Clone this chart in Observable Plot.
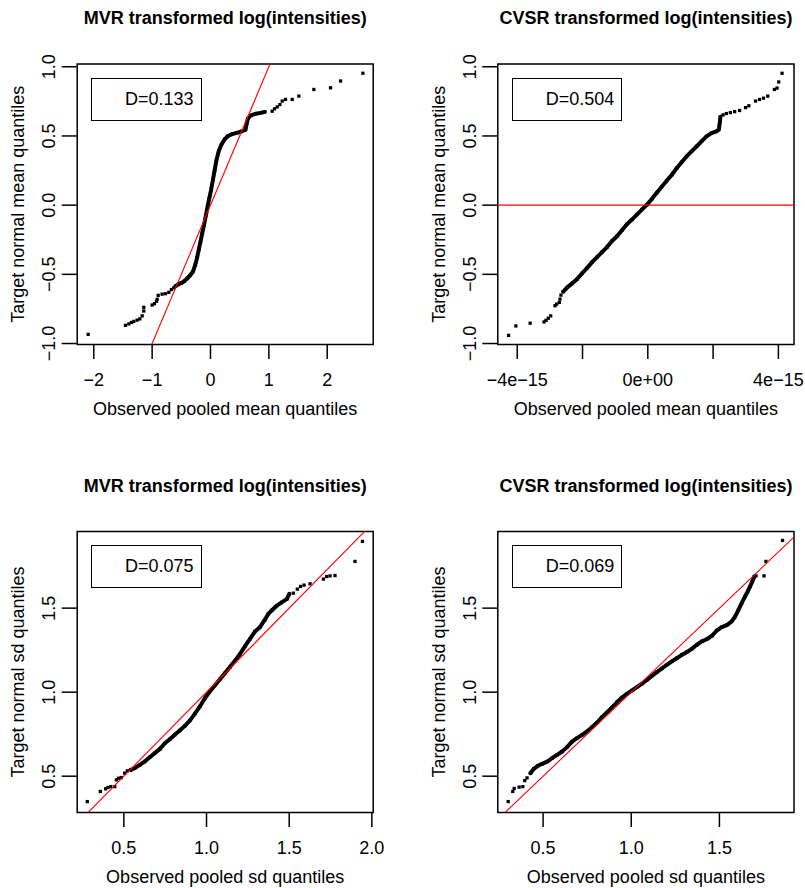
<!DOCTYPE html>
<html>
<head>
<meta charset="utf-8">
<script src="https://cdn.jsdelivr.net/npm/d3@7"></script>
<script src="https://cdn.jsdelivr.net/npm/@observablehq/plot@0.6"></script>
<style>
  body { margin: 0; background: #fff; }
  #wrap { position: relative; width: 805px; height: 888px; background: #fff;
          font-family: 'Liberation Sans', Arial, Helvetica, sans-serif; }
  #wrap svg { position: absolute; }
  .legend { position: absolute; box-sizing: border-box; border: 1.5px solid #000;
            font-size: 18px; color: #000; display: flex; align-items: center; }
</style>
</head>
<body>
<div id="wrap"></div>
<script>
// ---------------- data ----------------
const titles = ["MVR transformed log(intensities)", "CVSR transformed log(intensities)",
                "MVR transformed log(intensities)", "CVSR transformed log(intensities)"];
const xLabels = ["Observed pooled mean quantiles", "Observed pooled mean quantiles",
                 "Observed pooled sd quantiles", "Observed pooled sd quantiles"];
const yLabels = ["Target normal mean quantiles", "Target normal mean quantiles",
                 "Target normal sd quantiles", "Target normal sd quantiles"];
const dStats = ["D=0.133", "D=0.504", "D=0.075", "D=0.069"];

// Top-left: MVR, means
const tlLowX = [-2.096,-1.457,-1.400,-1.354,-1.314,-1.257,-1.211,-1.171,-1.143,-1.143,-1.000,-0.960,-0.926,-0.914,-0.896,-0.829,-0.771,-0.714,-0.670,-0.629];
const tlLowY = [-0.934,-0.869,-0.858,-0.848,-0.840,-0.831,-0.822,-0.800,-0.765,-0.738,-0.722,-0.712,-0.695,-0.680,-0.652,-0.643,-0.640,-0.630,-0.610,-0.598];
const tlCurveX = [-0.60,-0.55,-0.50,-0.45,-0.40,-0.35,-0.30,-0.26,-0.23,-0.20,-0.17,-0.14,-0.11,-0.08,-0.05,-0.02,0.01,0.04,0.07,0.10,0.14,0.19,0.24,0.30,0.37,0.45,0.53,0.60,0.62,0.64,0.69,0.77,0.86,0.93];
const tlCurveY = [-0.585,-0.572,-0.562,-0.550,-0.530,-0.508,-0.480,-0.430,-0.380,-0.320,-0.260,-0.200,-0.140,-0.075,-0.010,0.050,0.110,0.180,0.250,0.320,0.390,0.440,0.475,0.500,0.513,0.522,0.532,0.545,0.590,0.625,0.648,0.660,0.667,0.674];
const tlHighX = [1.057,1.097,1.143,1.189,1.229,1.286,1.400,1.514,1.771,2.057,2.229,2.611];
const tlHighY = [0.679,0.696,0.710,0.727,0.752,0.764,0.764,0.788,0.836,0.848,0.897,0.953];

// Top-right: CVSR, means
const trLowX = [-4.264e-15,-4.041e-15,-3.604e-15,-3.178e-15,-3.117e-15,-3.046e-15,-2.975e-15,-2.843e-15,-2.792e-15,-2.711e-15,-2.690e-15,-2.660e-15];
const trLowY = [-0.941,-0.873,-0.853,-0.844,-0.832,-0.817,-0.800,-0.727,-0.715,-0.703,-0.679,-0.650];
const trCurveX = [-2.589e-15,-2.467e-15,-2.315e-15,-2.162e-15,-2.010e-15,-1.858e-15,-1.706e-15,-1.553e-15,-1.401e-15,-1.249e-15,-1.096e-15,-0.944e-15,-0.792e-15,-0.640e-15,-0.487e-15,-0.335e-15,-0.183e-15,-0.030e-15,0.122e-15,0.274e-15,0.426e-15,0.579e-15,0.731e-15,0.883e-15,1.036e-15,1.188e-15,1.340e-15,1.492e-15,1.645e-15,1.797e-15,1.949e-15,2.102e-15,2.173e-15,2.203e-15,2.223e-15];
const trCurveY = [-0.625,-0.594,-0.565,-0.533,-0.492,-0.453,-0.412,-0.376,-0.339,-0.303,-0.259,-0.225,-0.182,-0.138,-0.104,-0.068,-0.032,0.002,0.044,0.090,0.133,0.177,0.218,0.267,0.310,0.352,0.388,0.424,0.461,0.497,0.521,0.533,0.545,0.594,0.638];
const trHighX = [2.305e-15,2.406e-15,2.528e-15,2.660e-15,2.812e-15,2.995e-15,3.096e-15,3.299e-15,3.421e-15,3.543e-15,3.675e-15,3.878e-15,3.959e-15,4.010e-15,4.112e-15];
const trHighY = [0.652,0.662,0.669,0.676,0.684,0.705,0.718,0.752,0.764,0.773,0.788,0.836,0.846,0.890,0.953];

// Bottom-left: MVR, sds
const blLowX = [0.279,0.358,0.390,0.404,0.421,0.445,0.455,0.469,0.485,0.505,0.521];
const blLowY = [0.349,0.409,0.425,0.433,0.438,0.438,0.478,0.488,0.492,0.518,0.532];
const blCurveX = [0.542,0.566,0.596,0.626,0.657,0.687,0.717,0.748,0.778,0.808,0.838,0.869,0.899,0.929,0.960,0.990,1.020,1.050,1.081,1.111,1.141,1.172,1.202,1.232,1.262,1.293,1.323,1.353,1.374,1.394,1.424,1.454,1.485,1.501];
const blCurveY = [0.538,0.548,0.567,0.587,0.613,0.637,0.661,0.696,0.720,0.746,0.772,0.800,0.831,0.871,0.915,0.964,1.004,1.040,1.077,1.113,1.149,1.187,1.226,1.272,1.315,1.361,1.387,1.431,1.466,1.486,1.514,1.534,1.554,1.585];
const blHighX = [1.525,1.549,1.569,1.590,1.626,1.707,1.727,1.747,1.777,1.898,1.943];
const blHighY = [1.589,1.613,1.629,1.637,1.645,1.673,1.688,1.692,1.694,1.778,1.897];

// Bottom-right: CVSR, sds
const brLowX = [0.302,0.328,0.336,0.364,0.385,0.396,0.409];
const brLowY = [0.349,0.409,0.427,0.435,0.438,0.474,0.490];
const brCurveX = [0.428,0.447,0.470,0.494,0.523,0.551,0.579,0.608,0.636,0.664,0.692,0.721,0.749,0.777,0.806,0.834,0.862,0.891,0.919,0.947,0.975,1.004,1.032,1.060,1.089,1.117,1.145,1.174,1.202,1.230,1.258,1.287,1.315,1.343,1.372,1.400,1.428,1.457,1.485,1.513,1.542,1.570,1.589,1.608,1.626,1.645,1.660,1.674,1.687,1.698];
const brCurveY = [0.518,0.544,0.562,0.573,0.587,0.607,0.627,0.647,0.673,0.706,0.726,0.746,0.766,0.792,0.819,0.851,0.879,0.909,0.940,0.968,0.990,1.010,1.030,1.050,1.073,1.097,1.119,1.141,1.163,1.183,1.202,1.222,1.238,1.258,1.282,1.302,1.315,1.335,1.367,1.387,1.399,1.421,1.450,1.490,1.530,1.569,1.599,1.629,1.659,1.688];
const brHighX = [1.708,1.753,1.764,1.858];
const brHighY = [1.692,1.692,1.778,1.903];

// ticks
const meanYTicks = [-1, -0.5, 0, 0.5, 1];
const meanYTickLabels = ["\u22121.0", "\u22120.5", "0.0", "0.5", "1.0"];
const sdYTicks = [0.5, 1, 1.5];
const sdYTickLabels = ["0.5", "1.0", "1.5"];
const tlXTicks = [-2, -1, 0, 1, 2];
const tlXTickLabels = ["\u22122", "\u22121", "0", "1", "2"];
const trXTicks = [-4e-15, -2e-15, 0, 2e-15, 4e-15];
const trXTickLabels = ["\u22124e\u221215", "", "0e+00", "", "4e\u221215"];
const blXTicks = [0.5, 1, 1.5, 2];
const blXTickLabels = ["0.5", "1.0", "1.5", "2.0"];
const brXTicks = [0.5, 1, 1.5];
const brXTickLabels = ["0.5", "1.0", "1.5"];

// ---------------- drawing ----------------
const FONT = "'Liberation Sans', Arial, Helvetica, sans-serif";
const zip = (xs, ys) => xs.map((x, i) => ({x, y: ys[i]}));

function panel(c) {
  const curve = zip(c.curveX, c.curveY);
  const pts = [...zip(c.lowX, c.lowY), ...curve, ...zip(c.highX, c.highY)];
  // y = x reference line spanning the x domain
  const ref = [{x1: c.xDomain[0], y1: c.xDomain[0], x2: c.xDomain[1], y2: c.xDomain[1]}];
  const xFmt = new Map(c.xTicks.map((t, i) => [t, c.xTickLabels[i]]));
  const yFmt = new Map(c.yTicks.map((t, i) => [t, c.yTickLabels[i]]));
  const svg = Plot.plot({
    width: c.width, height: 444,
    marginTop: c.mt, marginBottom: c.mb, marginLeft: c.ml, marginRight: c.mr,
    x: {domain: c.xDomain}, y: {domain: c.yDomain},
    style: {fontFamily: FONT, fontSize: "18px", color: "black", background: "transparent", overflow: "visible"},
    marks: [
      Plot.axisX({ticks: c.xTicks, tickSize: 15, tickPadding: 14, tickFormat: d => xFmt.get(d),
                  label: null, strokeWidth: 1.5, fontSize: 18}),
      Plot.axisY({ticks: c.yTicks, tickSize: 15, tickFormat: () => "", label: null, strokeWidth: 1.5}),
      Plot.text(c.yTicks, {y: d => d, text: d => yFmt.get(d), frameAnchor: "left", dx: -28,
                           rotate: -90, textAnchor: "middle", lineAnchor: "middle", fontSize: 18}),
      Plot.line(curve, {x: "x", y: "y", stroke: "black", strokeWidth: 4,
                        strokeLinejoin: "round", strokeLinecap: "round"}),
      Plot.dot(pts, {x: "x", y: "y", symbol: "square", r: 1.85, fill: "black"}),
      Plot.frame({stroke: "black", strokeWidth: 1.5}),
      Plot.text([c.title], {frameAnchor: "top", dy: -45.5, fontWeight: "bold", fontSize: 18,
                            textAnchor: "middle", lineAnchor: "middle"}),
      Plot.text([c.xLabel], {frameAnchor: "bottom", dy: 65, textAnchor: "middle", lineAnchor: "middle", fontSize: 18}),
      Plot.text([c.yLabel], {frameAnchor: "left", dx: -58.7, rotate: -90, textAnchor: "middle",
                             lineAnchor: "middle", fontSize: 18}),
      Plot.link(ref, {x1: "x1", y1: "y1", x2: "x2", y2: "y2", stroke: "#ff0000", strokeWidth: 1.1, clip: true})
    ]
  });
  svg.style.left = c.left + "px";
  svg.style.top = c.top + "px";
  return svg;
}

const wrap = document.getElementById("wrap");
const meanYDomain = [-1.007, 1.020];
const sdYDomain = [0.284, 1.956];

const panels = [
  {left: 0, top: 0, width: 402, mt: 63.5, mb: 100, ml: 76.7, mr: 29.3,
   xDomain: [-2.284, 2.788], yDomain: meanYDomain,
   xTicks: tlXTicks, xTickLabels: tlXTickLabels, yTicks: meanYTicks, yTickLabels: meanYTickLabels,
   lowX: tlLowX, lowY: tlLowY, curveX: tlCurveX, curveY: tlCurveY, highX: tlHighX, highY: tlHighY,
   title: titles[0], xLabel: xLabels[0], yLabel: yLabels[0],
   legend: {left: 91, top: 77.7, w: 110.7, h: 43.3, text: dStats[0]}},
  {left: 402, top: 0, width: 403, mt: 63.5, mb: 100, ml: 95.3, mr: 11.5,
   xDomain: [-4.595e-15, 4.478e-15], yDomain: meanYDomain,
   xTicks: trXTicks, xTickLabels: trXTickLabels, yTicks: meanYTicks, yTickLabels: meanYTickLabels,
   lowX: trLowX, lowY: trLowY, curveX: trCurveX, curveY: trCurveY, highX: trHighX, highY: trHighY,
   title: titles[1], xLabel: xLabels[1], yLabel: yLabels[1],
   legend: {left: 511.7, top: 77.7, w: 110.6, h: 43.3, text: dStats[1]}},
  {left: 0, top: 444, width: 402, mt: 87, mb: 76, ml: 76.7, mr: 29.3,
   xDomain: [0.218, 2.008], yDomain: sdYDomain,
   xTicks: blXTicks, xTickLabels: blXTickLabels, yTicks: sdYTicks, yTickLabels: sdYTickLabels,
   lowX: blLowX, lowY: blLowY, curveX: blCurveX, curveY: blCurveY, highX: blHighX, highY: blHighY,
   title: titles[2], xLabel: xLabels[2], yLabel: yLabels[2],
   legend: {left: 91, top: 545, w: 110.7, h: 43.3, text: dStats[2]}},
  {left: 402, top: 444, width: 403, mt: 87, mb: 76, ml: 95.3, mr: 11.5,
   xDomain: [0.243, 1.923], yDomain: sdYDomain,
   xTicks: brXTicks, xTickLabels: brXTickLabels, yTicks: sdYTicks, yTickLabels: sdYTickLabels,
   lowX: brLowX, lowY: brLowY, curveX: brCurveX, curveY: brCurveY, highX: brHighX, highY: brHighY,
   title: titles[3], xLabel: xLabels[3], yLabel: yLabels[3],
   legend: {left: 511.7, top: 545, w: 110.6, h: 43.3, text: dStats[3]}}
];

for (const p of panels) {
  wrap.appendChild(panel(p));
  const lg = document.createElement("div");
  lg.className = "legend";
  lg.style.left = p.legend.left + "px";
  lg.style.top = p.legend.top + "px";
  lg.style.width = p.legend.w + "px";
  lg.style.height = p.legend.h + "px";
  lg.style.paddingLeft = "33px";
  lg.textContent = p.legend.text;
  wrap.appendChild(lg);
}
</script>
</body>
</html>
